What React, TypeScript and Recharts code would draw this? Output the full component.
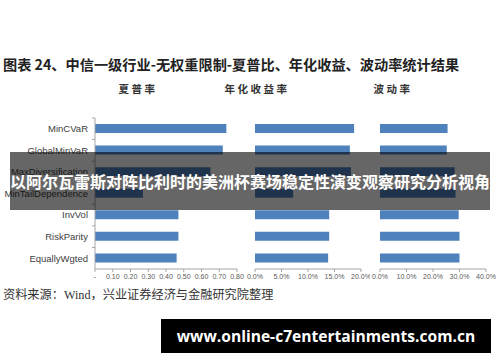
import React from "react";
import { BarChart, Bar, XAxis, YAxis } from "recharts";

// 中信一级行业 - 无权重限制：夏普率 / 年化收益率 / 波动率
const CATEGORIES = [
  "MinCVaR",
  "GlobalMinVaR",
  "MaxDiversification",
  "MinTailDependence",
  "InvVol",
  "RiskParity",
  "EquallyWgted",
];
const SHARPE = [0.74, 0.72, 0.65, 0.27, 0.47, 0.47, 0.46];
const ANNUAL_RETURN = [0.187, 0.179, 0.181, 0.072, 0.14, 0.14, 0.138];
const VOLATILITY = [0.255, 0.252, 0.282, 0.285, 0.297, 0.3, 0.3];

const SHARPE_TICKS = [0, 0.1, 0.2, 0.3, 0.4, 0.5, 0.6, 0.7, 0.8];
const RETURN_TICKS = [0, 0.05, 0.1, 0.15, 0.2];
const VOL_TICKS = [0, 0.1, 0.2, 0.3, 0.4];

const TITLE = "图表 24、中信一级行业-无权重限制-夏普比、年化收益、波动率统计结果";
const PANEL_TITLES = ["夏普率", "年化收益率", "波动率"];
const SOURCE = "资料来源：Wind，兴业证券经济与金融研究院整理";
const BANNER = "以阿尔瓦雷斯对阵比利时的美洲杯赛场稳定性演变观察研究分析视角";
const SITE = "www.online-c7entertainments.com.cn";

const BLUE = "#4f81bd";
const AXIS = "#a6a6a6";
const LATIN = "'Liberation Sans', Arial, sans-serif";
const CJK = "'Noto Sans CJK SC', sans-serif";

const rows = CATEGORIES.map((name, i) => ({
  name,
  sharpe: SHARPE[i],
  ret: ANNUAL_RETURN[i],
  vol: VOLATILITY[i],
}));

const pct = (v: number) => `${(v * 100).toFixed(1)}%`;

// category label plus a short tick at the upper band boundary (Excel style)
function CategoryTick(props: any) {
  const { x, y, payload } = props;
  const half = payload && payload.offset ? payload.offset : 10.8;
  const ax = x + 7;
  return (
    <g>
      <line x1={ax - 3} x2={ax} y1={y - half} y2={y - half} stroke={AXIS} />
      <text x={x} y={y} dy="0.35em" textAnchor="end" fontSize={9.5} fill="#404040" fontFamily={LATIN}>
        {payload.value}
      </text>
    </g>
  );
}

const tickStyle = { fontSize: 7, fill: "#595959", fontFamily: LATIN };

export default function App() {
  return (
    <div style={{ position: "absolute", left: 0, top: 0, width: 500, height: 362, background: "#fff", overflow: "hidden" }}>
      <div style={{ position: "absolute", left: 3, top: 55, fontFamily: CJK, fontWeight: 700, fontSize: 14.2, color: "#222", whiteSpace: "nowrap", lineHeight: "18px" }}>
        {TITLE}
      </div>
      {PANEL_TITLES.map((t, i) => (
        <div
          key={t}
          style={{
            position: "absolute",
            left: [138, 257, 393][i] - 50,
            width: 100,
            top: 82,
            textAlign: "center",
            fontFamily: CJK,
            fontWeight: 700,
            fontSize: 10.5,
            letterSpacing: 2.5,
            color: "#333",
            lineHeight: "14px",
          }}
        >
          {t}
        </div>
      ))}

      <div style={{ position: "absolute", left: 0, top: 100 }}>
        <BarChart width={245} height={190} data={rows} layout="vertical" margin={{ top: 18, right: 8, bottom: 5, left: 0 }}>
          <XAxis type="number" domain={[0, 0.8]} ticks={SHARPE_TICKS} tickFormatter={(v: number) => (v === 0 ? "-" : v.toFixed(2))} stroke={AXIS} tickSize={3} tick={tickStyle} height={16} interval={0} />
          <YAxis type="category" dataKey="name" width={95} stroke={AXIS} tickLine={false} tickSize={0} tickMargin={7} tick={<CategoryTick />} interval={0} />
          <Bar dataKey="sharpe" fill={BLUE} barSize={9} isAnimationActive={false} />
        </BarChart>
      </div>
      <div style={{ position: "absolute", left: 245, top: 100 }}>
        <BarChart width={125} height={190} data={rows} layout="vertical" margin={{ top: 18, right: 9, bottom: 5, left: 10 }}>
          <XAxis type="number" domain={[0, 0.2]} ticks={RETURN_TICKS} tickFormatter={pct} stroke={AXIS} tickSize={3} tick={tickStyle} height={16} interval={0} />
          <YAxis type="category" dataKey="name" hide />
          <Bar dataKey="ret" fill={BLUE} barSize={9} isAnimationActive={false} />
        </BarChart>
      </div>
      <div style={{ position: "absolute", left: 370, top: 100 }}>
        <BarChart width={130} height={190} data={rows} layout="vertical" margin={{ top: 18, right: 14, bottom: 5, left: 10 }}>
          <XAxis type="number" domain={[0, 0.4]} ticks={VOL_TICKS} tickFormatter={pct} stroke={AXIS} tickSize={3} tick={tickStyle} height={16} interval={0} />
          <YAxis type="category" dataKey="name" hide />
          <Bar dataKey="vol" fill={BLUE} barSize={9} isAnimationActive={false} />
        </BarChart>
      </div>

      <div style={{ position: "absolute", left: 3, top: 287, fontFamily: "'Liberation Serif', " + CJK, fontSize: 12.2, color: "#333", whiteSpace: "nowrap", lineHeight: "16px" }}>
        {SOURCE}
      </div>

      <div
        style={{
          position: "absolute",
          left: 10,
          top: 152,
          width: 480,
          height: 58,
          background: "rgba(0,0,0,0.6)",
          color: "#fff",
          fontFamily: CJK,
          fontWeight: 700,
          fontSize: 16,
          lineHeight: "58px",
          textAlign: "center",
          whiteSpace: "nowrap",
        }}
      >
        {BANNER}
      </div>

      <div
        style={{
          position: "absolute",
          left: 161,
          top: 319,
          width: 330,
          height: 34,
          background: "#000",
          color: "#fff",
          fontFamily: "'Open Sans', sans-serif",
          fontWeight: 700,
          fontSize: 15.6,
          lineHeight: "34px",
          textAlign: "center",
          whiteSpace: "nowrap",
        }}
      >
        {SITE}
      </div>
    </div>
  );
}
